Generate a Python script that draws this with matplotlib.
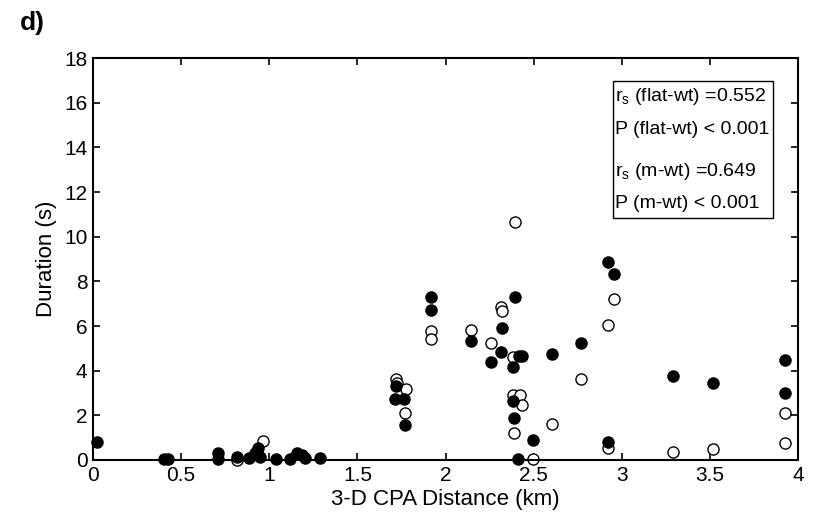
import matplotlib.pyplot as plt
from matplotlib.patches import Rectangle

plt.rcParams['font.family'] = ['Liberation Sans', 'DejaVu Sans']
plt.rcParams['mathtext.fontset'] = 'custom'
plt.rcParams['mathtext.rm'] = 'Liberation Sans'
plt.rcParams['mathtext.it'] = 'Liberation Sans'

# filled markers
filled_x = [0.021, 0.403, 0.427, 0.711, 0.711, 0.819, 0.887, 0.919, 0.938, 0.95,
            1.04, 1.118, 1.156, 1.184, 1.203, 1.288,
            1.719, 1.714, 1.764, 1.770, 1.918, 1.918,
            2.145, 2.258, 2.317, 2.322, 2.381, 2.381, 2.396, 2.389, 2.415, 2.432,
            2.413, 2.495, 2.602, 2.767, 2.924, 2.958, 2.924, 3.289, 3.52,
            3.928, 3.928]
filled_y = [0.82, 0.03, 0.03, 0.30, 0.05, 0.12, 0.10, 0.30, 0.52, 0.15,
            0.05, 0.05, 0.30, 0.22, 0.08, 0.08,
            3.31, 2.72, 2.72, 1.57, 7.28, 6.72,
            5.34, 4.39, 4.85, 5.90, 4.18, 2.66, 7.31, 1.87, 4.67, 4.67,
            0.03, 0.90, 4.75, 5.22, 8.85, 8.34, 0.82, 3.78, 3.43,
            4.48, 2.99]

# open markers
open_x = [0.819, 0.966, 1.719, 1.725, 1.776, 1.770, 1.918, 1.918,
          2.145, 2.258, 2.317, 2.32, 2.381, 2.381, 2.423, 2.432,
          2.396, 2.389, 2.495, 2.602, 2.767, 2.924, 2.958, 2.924,
          3.289, 3.52, 3.928, 3.928]
open_y = [0.0, 0.84, 3.62, 3.45, 3.17, 2.12, 5.78, 5.40,
          5.82, 5.25, 6.84, 6.67, 4.63, 2.91, 2.91, 2.46,
          10.64, 1.22, 0.06, 1.60, 3.61, 6.05, 7.21, 0.55,
          0.36, 0.51, 2.09, 0.75]

stats_lines = [r'r$_{\rm s}$ (flat-wt) =0.552', 'P (flat-wt) < 0.001',
               r'r$_{\rm s}$ (m-wt) =0.649', 'P (m-wt) < 0.001']

fig = plt.figure(figsize=(8.14, 5.19), dpi=100)
ax = fig.add_axes([0.1143, 0.1137, 0.866, 0.7745])

ax.plot(open_x, open_y, 'o', mfc='white', mec='black', ms=8, mew=1, clip_on=False)
ax.plot(filled_x, filled_y, 'o', mfc='black', mec='black', ms=8, mew=1, clip_on=False)

ax.set_xlim(0, 4)
ax.set_ylim(0, 18)
ax.set_xticks([0, 0.5, 1, 1.5, 2, 2.5, 3, 3.5, 4])
ax.set_xticklabels(['0', '0.5', '1', '1.5', '2', '2.5', '3', '3.5', '4'])
ax.set_yticks(range(0, 19, 2))
ax.tick_params(direction='in', top=True, right=True, length=5, width=1.2,
               labelsize=15, pad=4)
for s in ax.spines.values():
    s.set_linewidth(1.5)

ax.set_xlabel('3-D CPA Distance (km)', fontsize=16, labelpad=3)
ax.set_ylabel('Duration (s)', fontsize=16, labelpad=5)

ax.add_patch(Rectangle((0.7376, 0.602), 0.227, 0.341, transform=ax.transAxes,
                       fill=False, edgecolor='black', linewidth=1, zorder=5))
for txt, yy in zip(stats_lines, [0.905, 0.823, 0.718, 0.638]):
    ax.text(0.741, yy, txt, transform=ax.transAxes, fontsize=14,
            va='center', ha='left', zorder=6)

fig.text(0.025, 0.955, 'd)', fontsize=19, fontweight='bold', va='center')

fig.savefig('out.png', dpi=100)
